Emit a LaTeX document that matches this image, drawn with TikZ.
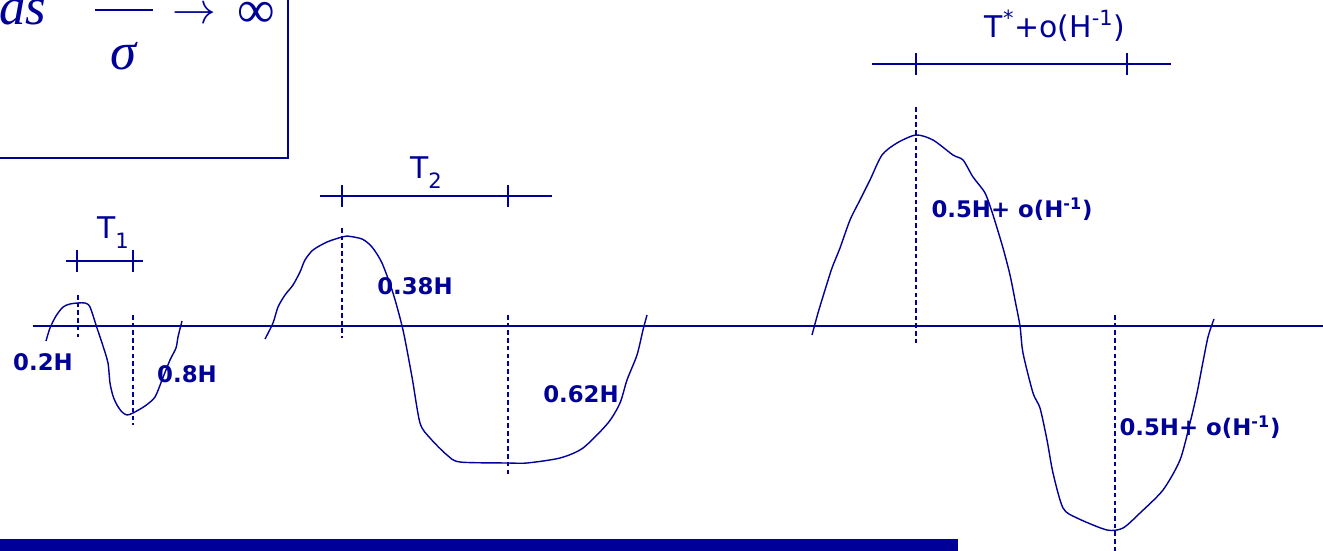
\documentclass[tikz,border=0pt]{standalone}
\usepackage{fontspec}
\setmainfont{DejaVu Sans}
\newfontfamily\tnr{Liberation Serif}
\usetikzlibrary{positioning}
\definecolor{navy}{RGB}{0,0,153}
\newcommand{\lowsub}[1]{\raisebox{-0.34em}{\fontsize{12}{12}\selectfont #1}}

\begin{document}
\begin{tikzpicture}[x=0.02cm, y=-0.02cm,
      wave/.style={draw=navy, line width=0.8pt, smooth, tension=0.45},
      guide/.style={draw=navy, line width=0.7pt, dash pattern=on 2.6pt off 1.8pt},
      span/.style={draw=navy, line width=0.8pt},
      lbl/.style={text=navy, font=\fontsize{13}{13}\selectfont\bfseries, inner sep=0pt, anchor=base},
      tlbl/.style={text=navy, font=\fontsize{17}{17}\selectfont, inner sep=0pt, anchor=base},
      frm/.style={text=navy, font=\fontsize{30}{30}\selectfont\tnr, inner sep=0pt, anchor=base}]
      \useasboundingbox (0,0) rectangle (1323,551);
      \clip (0,0) rectangle (1323,551);

      % formula box, cut by the page edge
      \draw[navy, line width=1.4pt] (-5,158) -- (288,158) -- (288,-5);
      \node[frm] (as) at (23,25) {\itshape as};
      \coordinate (bar0) at (95,10); \coordinate (bar1) at (153,10);
      \draw[navy, line width=1.3pt] (bar0) -- (bar1);
      \node[frm] (sig) at (123,70) {\itshape σ};
      \node[frm] (arr) at (194,24) {$\rightarrow$};
      \node[frm] (inf) at (256,28) {∞};

      % axis
      \coordinate (ax0) at (33,326); \coordinate (ax1) at (1330,326);
      \draw[navy, line width=0.9pt] (ax0) -- (ax1);

      % waves
      \draw[wave] plot coordinates {(46,341) (50,328) (56,316) (63,307) (70,304) (78,303) (85,303) (90,307)
        (97,328) (103,346) (108,363) (110,383) (113,396) (117,405) (122,412) (127,415) (133,413)
        (145,406) (155,397) (162,380) (170,360) (176,348) (178,337) (182,321)};
      \draw[wave] plot coordinates {(265,339) (273,323) (278,307) (285,295) (293,285) (300,272) (305,260)
        (313,250) (327,242) (342,237) (347,236) (362,239) (372,247) (382,263) (393,293) (403,330)
        (412,377) (420,423) (430,438) (447,455) (460,462) (508,463) (527,463) (560,458) (583,448)
        (608,423) (620,403) (627,380) (637,355) (643,330) (647,315)};
      \draw[wave] plot coordinates {(812,335) (818,313) (825,290) (832,268) (840,248) (850,220) (860,200)
        (870,180) (882,155) (897,143) (916,135) (933,140) (953,155) (963,160) (973,177) (985,193)
        (993,215) (1003,248) (1010,275) (1015,300) (1020,326) (1023,353) (1033,393) (1040,408)
        (1047,440) (1053,473) (1063,508) (1077,518) (1107,530) (1123,528) (1140,513) (1163,490)
        (1180,460) (1190,423) (1197,393) (1202,367) (1208,337) (1214,319)};

      % dashed guides at crests and troughs
      \draw[guide] (78,295) -- (78,337);
      \draw[guide] (133,315) -- (133,425);
      \draw[guide] (342,228) -- (342,338);
      \draw[guide] (508,315) -- (508,475);
      \draw[guide] (916,107) -- (916,345);
      \draw[guide] (1115,315) -- (1115,555);

      % period spans
      \coordinate (s1a) at (66,261);  \coordinate (s1b) at (143,261);
      \coordinate (s2a) at (320,196); \coordinate (s2b) at (552,196);
      \coordinate (s3a) at (872,64);  \coordinate (s3b) at (1171,64);
      \draw[span] (s1a) -- (s1b);
      \draw[span] (s2a) -- (s2b);
      \draw[span] (s3a) -- (s3b);
      \foreach \x/\y in {77/261, 133/261, 342/196, 508/196, 916/64, 1127/64}
        \draw[span] (\x,\y-11) -- (\x,\y+11);

      \node[tlbl] (t1) at (113,238) {T\lowsub{1}};
      \node[tlbl] (t2) at (426,178) {T\lowsub{2}};
      \node[tlbl] (tst) at (1055,37) {T\textsuperscript{*}+o(H\textsuperscript{-1})};

      % heights
      \node[lbl] (h02) at (43,370) {0.2H};
      \node[lbl] (h08) at (187,382) {0.8H};
      \node[lbl] (h038) at (415,294) {0.38H};
      \node[lbl] (h062) at (581,402) {0.62H};
      \node[lbl] (h05a) at (1012,217) {0.5H+ o(H\textsuperscript{-1})};
      \node[lbl] (h05b) at (1200,435) {0.5H+ o(H\textsuperscript{-1})};

      % bottom bar
      \fill[navy] (0,539) rectangle (958,551);
    \end{tikzpicture}
\end{document}
